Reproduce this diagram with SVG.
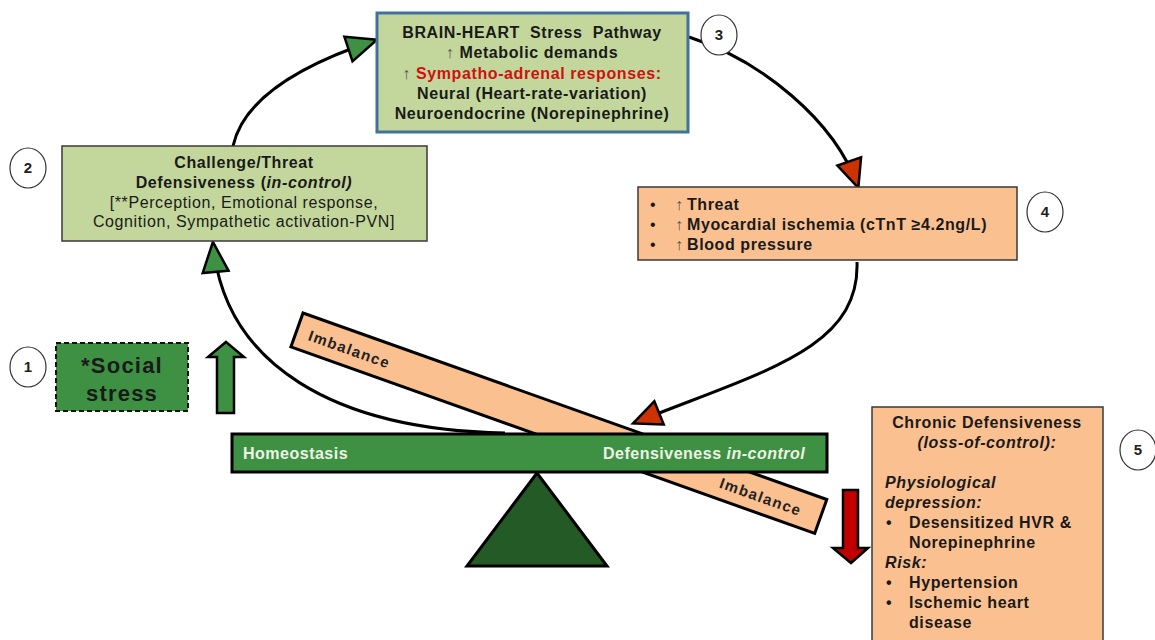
<svg xmlns="http://www.w3.org/2000/svg" width="1155" height="640" viewBox="0 0 1155 640">
<defs>
<style>
.t{font-family:"Liberation Sans",Arial,sans-serif;font-size:16px;letter-spacing:0.6px;fill:#1a1a1a}
.b{font-weight:bold}
.n{font-weight:normal}
.i{font-style:italic}
.c{text-anchor:middle}
.up{font-weight:normal;fill:#555}
.red{fill:#D01010}
.num{font-family:"Liberation Sans",Arial,sans-serif;font-size:15px;font-weight:bold;text-anchor:middle;fill:#222}
.badge{fill:#fff;stroke:#333;stroke-width:1.2}
.green{fill:#C3D69B}
.orange{fill:#FAC090}
.box{stroke:#3a3a3a;stroke-width:1.5}
.conn{fill:none;stroke:#000;stroke-width:3}
.beamtxt{font-family:"Liberation Sans",Arial,sans-serif;font-size:16px;font-weight:bold;letter-spacing:0.5px;fill:#EEF3E6}
.imb{font-family:"Liberation Sans",Arial,sans-serif;font-size:15px;font-weight:bold;letter-spacing:1.4px;fill:#222}
</style>
<marker id="ahg" markerUnits="userSpaceOnUse" viewBox="0 0 30 26" markerWidth="30" markerHeight="26" refX="29" refY="13" orient="auto" overflow="visible">
<path d="M0,0 L30,13 L0,26 Z" fill="#3E9142" stroke="#000" stroke-width="2.5" stroke-linejoin="miter"/>
</marker>
<marker id="ahr" markerUnits="userSpaceOnUse" viewBox="0 0 28 25" markerWidth="28" markerHeight="25" refX="27" refY="12.5" orient="auto" overflow="visible">
<path d="M0,0 L28,12.5 L0,25 Z" fill="#CC3300" stroke="#000" stroke-width="2.5" stroke-linejoin="miter"/>
</marker>
</defs>

<g id="seesaw">
<rect x="0" y="0" width="556" height="36" transform="translate(303,313) rotate(19.6)" class="orange" stroke="#000" stroke-width="3"/>
<text class="imb" transform="translate(303,313) rotate(19.6)" x="13" y="24">Imbalance</text>
<text class="imb" transform="translate(303,313) rotate(19.6)" x="450" y="25">Imbalance</text>
<polygon points="537,473 467,566 607,566" fill="#235A26" stroke="#000" stroke-width="3"/>
<rect x="232" y="434" width="595" height="38" fill="#3E9142" stroke="#000" stroke-width="3"/>
<text class="beamtxt" x="243" y="459">Homeostasis</text>
<text class="beamtxt" x="603" y="459">Defensiveness <tspan class="i">in-control</tspan></text>
</g>

<g id="connectors">
<path class="conn" d="M233,146 C245,92 315,60 376,40" marker-end="url(#ahg)"/>
<path class="conn" d="M505,433 C335,430 224,365 213,243" marker-end="url(#ahg)"/>
<path class="conn" d="M689,37 C760,60 835,120 858,187" marker-end="url(#ahr)"/>
<path class="conn" d="M857,262 C860,350 760,372 634,423" marker-end="url(#ahr)"/>
</g>

<g id="node-brain-heart">
<rect x="377" y="13" width="311" height="119" class="green" stroke="#41719C" stroke-width="3"/>
<text class="t c b" x="532" y="38" xml:space="preserve">BRAIN-HEART  Stress  Pathway</text>
<text class="t c b" x="532" y="58"><tspan class="up">↑ </tspan>Metabolic demands</text>
<text class="t c b" x="532" y="79"><tspan class="up">↑ </tspan><tspan class="red">Sympatho-adrenal responses:</tspan></text>
<text class="t c b" x="532" y="99">Neural (Heart-rate-variation)</text>
<text class="t c b" x="532" y="119">Neuroendocrine (Norepinephrine)</text>
</g>

<g id="node-challenge">
<rect x="62" y="146" width="365" height="95" class="green box"/>
<text class="t c b" x="244" y="168">Challenge/Threat</text>
<text class="t c b" x="244" y="188">Defensiveness (<tspan class="i">in-control)</tspan></text>
<text class="t c" x="244" y="208">[**Perception, Emotional response,</text>
<text class="t c" x="244" y="227">Cognition, Sympathetic activation-PVN]</text>
</g>

<g id="node-threat">
<rect x="638" y="187" width="379" height="73" class="orange box"/>
<text class="t b" y="210"><tspan x="650" class="n">•</tspan><tspan x="675" class="up">↑</tspan><tspan x="687">Threat</tspan></text>
<text class="t b" y="230"><tspan x="650" class="n">•</tspan><tspan x="675" class="up">↑</tspan><tspan x="687">Myocardial ischemia (cTnT ≥4.2ng/L)</tspan></text>
<text class="t b" y="250"><tspan x="650" class="n">•</tspan><tspan x="675" class="up">↑</tspan><tspan x="687">Blood pressure</tspan></text>
</g>

<g id="node-chronic">
<rect x="872" y="407" width="231" height="240" class="orange box"/>
<text class="t c b" x="987" y="428">Chronic Defensiveness</text>
<text class="t c b i" x="987" y="448">(loss-of-control):</text>
<text class="t b i" x="885" y="488">Physiological</text>
<text class="t b i" x="885" y="508">depression:</text>
<text class="t b" y="528"><tspan x="886">•</tspan><tspan x="909">Desensitized HVR &amp;</tspan></text>
<text class="t b" x="909" y="548">Norepinephrine</text>
<text class="t b i" x="885" y="568">Risk:</text>
<text class="t b" y="588"><tspan x="886">•</tspan><tspan x="909">Hypertension</tspan></text>
<text class="t b" y="608"><tspan x="886">•</tspan><tspan x="909">Ischemic heart</tspan></text>
<text class="t b" x="909" y="628">disease</text>
</g>

<g id="node-social-stress">
<rect x="56" y="343" width="132" height="68" fill="#3E9142" stroke="#111" stroke-width="2" stroke-dasharray="5,3"/>
<text class="t c b" x="122" y="373" style="font-size:22px;letter-spacing:1.2px">*Social</text>
<text class="t c b" x="122" y="401" style="font-size:22px;letter-spacing:1.2px">stress</text>
</g>

<g id="arrow-up">
<polygon points="226,342 244,357 234,357 234,413 217,413 217,357 208,357" fill="#3E9142" stroke="#000" stroke-width="2.5"/>
</g>

<g id="arrow-down">
<polygon points="843,490 858,490 858,548 868,548 851,563 833,548 843,548" fill="#C00000" stroke="#000" stroke-width="2.5"/>
</g>

<g id="badge-1"><ellipse cx="28" cy="367" rx="18" ry="20" class="badge"/><text class="num" x="28" y="372">1</text></g>
<g id="badge-2"><ellipse cx="28" cy="168" rx="18" ry="20" class="badge"/><text class="num" x="28" y="173">2</text></g>
<g id="badge-3"><ellipse cx="719" cy="35" rx="18" ry="20" class="badge"/><text class="num" x="719" y="40">3</text></g>
<g id="badge-4"><ellipse cx="1045" cy="212" rx="18" ry="20" class="badge"/><text class="num" x="1045" y="217">4</text></g>
<g id="badge-5"><ellipse cx="1138" cy="450" rx="18" ry="20" class="badge"/><text class="num" x="1138" y="455">5</text></g>
</svg>
